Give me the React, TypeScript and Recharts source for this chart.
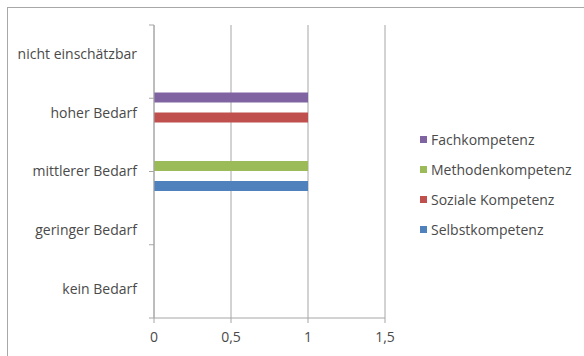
import { BarChart, Bar, XAxis, YAxis, CartesianGrid, Legend } from "recharts";

// Kategorien von oben nach unten wie im Original
const categories = [
  "nicht einschätzbar",
  "hoher Bedarf",
  "mittlerer Bedarf",
  "geringer Bedarf",
  "kein Bedarf",
];
const fachkompetenz = [0, 1, 0, 0, 0];
const methodenkompetenz = [0, 0, 1, 0, 0];
const sozialeKompetenz = [0, 1, 0, 0, 0];
const selbstkompetenz = [0, 0, 1, 0, 0];
const xTicks = [0, 0.5, 1, 1.5];
const boundaryTicks = [0, 1, 2, 3, 4, 5];

const series = [
  { key: "fach", name: "Fachkompetenz", color: "#8064A2" },
  { key: "methoden", name: "Methodenkompetenz", color: "#9BBB59" },
  { key: "sozial", name: "Soziale Kompetenz", color: "#C0504D" },
  { key: "selbst", name: "Selbstkompetenz", color: "#4F81BD" },
];

const data = categories.map((c, i) => ({
  kategorie: c,
  fach: fachkompetenz[i],
  methoden: methodenkompetenz[i],
  sozial: sozialeKompetenz[i],
  selbst: selbstkompetenz[i],
}));

const font = "'Open Sans', sans-serif";
const textColor = "#4a4a4a";
const lineColor = "#a6a6a6";

function LegendBox() {
  return (
    <div style={{ fontFamily: font, fontSize: 14, color: textColor }}>
      {series.map((s) => (
        <div
          key={s.key}
          style={{ display: "flex", alignItems: "center", height: 30 }}
        >
          <span
            style={{
              width: 7,
              height: 7,
              background: s.color,
              marginRight: 4,
              display: "inline-block",
            }}
          />
          <span>{s.name}</span>
        </div>
      ))}
    </div>
  );
}

export default function App() {
  return (
    <div
      style={{
        position: "fixed",
        left: 0,
        top: 0,
        width: 584,
        height: 356,
        overflow: "hidden",
        background: "#fff",
      }}
    >
      <div
        style={{
          position: "absolute",
          left: 7,
          top: 7,
          width: 700,
          height: 500,
          border: "1px solid #a8a8a8",
        }}
      />
      <div style={{ position: "absolute", left: 0, top: 0 }}>
        <BarChart
          width={584}
          height={356}
          data={data}
          layout="vertical"
          margin={{ top: 25, right: 199, bottom: 8, left: 0 }}
          barCategoryGap="15%"
          barGap={0}
        >
          <CartesianGrid horizontal={false} stroke={lineColor} />
          <XAxis
            type="number"
            domain={[0, 1.5]}
            ticks={xTicks}
            height={30}
            tickSize={5}
            tickMargin={9}
            stroke={lineColor}
            tick={{ fill: textColor, fontSize: 14, fontFamily: font }}
            tickFormatter={(v: number) => String(v).replace(".", ",")}
          />
          <YAxis
            yAxisId="grenzen"
            type="number"
            domain={[0, 5]}
            ticks={boundaryTicks}
            width={5}
            tickSize={5}
            tickFormatter={() => ""}
            stroke={lineColor}
          />
          <YAxis
            yAxisId="kat"
            type="category"
            dataKey="kategorie"
            width={149}
            tickSize={6}
            tickMargin={6}
            tickLine={false}
            axisLine={false}
            tick={{ fill: textColor, fontSize: 14, fontFamily: font }}
          />
          {series.map((s) => (
            <Bar
              key={s.key}
              yAxisId="kat"
              dataKey={s.key}
              name={s.name}
              fill={s.color}
              isAnimationActive={false}
            />
          ))}
          <Legend
            layout="horizontal"
            verticalAlign="middle"
            align="center"
            wrapperStyle={{ left: 420, top: 124, width: 164, height: 120 }}
            content={() => <LegendBox />}
          />
        </BarChart>
      </div>
    </div>
  );
}
